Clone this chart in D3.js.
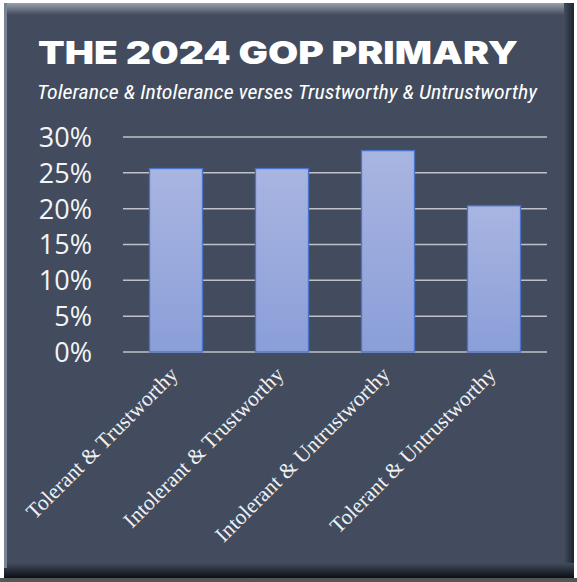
<!DOCTYPE html>
<html><head><meta charset="utf-8">
<script src="https://cdn.jsdelivr.net/npm/d3@7"></script>
<style>html,body{margin:0;padding:0;background:#fff;}svg{display:block;}</style>
</head><body>
<script>
const categories = ["Tolerant & Trustworthy","Intolerant & Trustworthy","Intolerant & Untrustworthy","Tolerant & Untrustworthy"];
const values = [0.256, 0.256, 0.281, 0.204];
const yTicks = [0, 0.05, 0.10, 0.15, 0.20, 0.25, 0.30];
const title = "THE 2024 GOP PRIMARY";
const subtitle = "Tolerance & Intolerance verses Trustworthy & Untrustworthy";

const W = 577, H = 582;
const svg = d3.select("body").append("svg").attr("width", W).attr("height", H);
const defs = svg.append("defs");

const bg = defs.append("linearGradient").attr("id","topg").attr("x1",0).attr("y1",0).attr("x2",0).attr("y2",1);
bg.append("stop").attr("offset",0).attr("stop-color","#9aa0ab");
bg.append("stop").attr("offset",1).attr("stop-color","#424c5e");
const bot = defs.append("linearGradient").attr("id","botg").attr("x1",0).attr("y1",0).attr("x2",0).attr("y2",1);
bot.append("stop").attr("offset",0).attr("stop-color","#424c5e");
bot.append("stop").attr("offset",1).attr("stop-color","#0b0e14");
const rg = defs.append("linearGradient").attr("id","rg").attr("x1",0).attr("y1",0).attr("x2",1).attr("y2",0);
rg.append("stop").attr("offset",0).attr("stop-color","#424c5e");
rg.append("stop").attr("offset",1).attr("stop-color","#1e2430");
const barg = defs.append("linearGradient").attr("id","barg").attr("x1",0).attr("y1",0).attr("x2",0).attr("y2",1);
barg.append("stop").attr("offset",0).attr("stop-color","#a9b5e1");
barg.append("stop").attr("offset",1).attr("stop-color","#8a9ed8");

// panel
svg.append("rect").attr("x",4).attr("y",3).attr("width",570).attr("height",575).attr("fill","#424c5e");
svg.append("rect").attr("x",4).attr("y",3).attr("width",570).attr("height",12).attr("fill","url(#topg)");
svg.append("rect").attr("x",564).attr("y",3).attr("width",10).attr("height",575).attr("fill","url(#rg)");
svg.append("rect").attr("x",4).attr("y",563).attr("width",570).attr("height",15).attr("fill","url(#botg)");
svg.append("rect").attr("x",4).attr("y",3).attr("width",3).attr("height",565).attr("fill","#7a8296");
svg.append("rect").attr("x",0).attr("y",578).attr("width",577).attr("height",4).attr("fill","#555");

// titles
svg.append("text").attr("x",38).attr("y",64).text(title)
  .attr("font-family","Inter, 'DejaVu Sans', sans-serif").attr("font-weight",900)
  .attr("font-size",31).attr("fill","#ffffff")
  .attr("textLength",480).attr("lengthAdjust","spacingAndGlyphs");
svg.append("text").attr("x",37).attr("y",99).text(subtitle)
  .attr("font-family","'Liberation Sans Narrow', 'Roboto Condensed', sans-serif").attr("font-style","italic")
  .attr("font-size",21).attr("fill","#ffffff")
  .attr("textLength",500).attr("lengthAdjust","spacingAndGlyphs");

const x = d3.scaleBand().domain(categories).range([123,547]).paddingInner(0.5).paddingOuter(0.25);
const y = d3.scaleLinear().domain([0,0.30]).range([352,137]);

// gridlines
svg.append("g").selectAll("line").data(yTicks).join("line")
  .attr("x1",123).attr("x2",547).attr("y1",d=>y(d)).attr("y2",d=>y(d))
  .attr("stroke","#bfc1c6").attr("stroke-width",1.5);

// y axis labels
const yAxis = d3.axisLeft(y).tickValues(yTicks).tickFormat(d3.format(".0%")).tickSize(0).tickPadding(0);
const ya = svg.append("g").attr("transform","translate(92,0)").call(yAxis);
ya.select(".domain").remove();
ya.selectAll("text").attr("fill","#f4f4f4").attr("font-size",27)
  .attr("font-family","'Open Sans', 'Liberation Sans', sans-serif").attr("dy","0.35em");

// bars
svg.append("g").selectAll("rect").data(values).join("rect")
  .attr("x",(d,i)=>x(categories[i])).attr("width",x.bandwidth())
  .attr("y",d=>y(d)).attr("height",d=>y(0)-y(d))
  .attr("fill","url(#barg)").attr("stroke","#4a74c8").attr("stroke-width",1.3);

// x labels
const xAxis = d3.axisBottom(x).tickSize(0).tickPadding(0);
const xa = svg.append("g").attr("transform","translate(0,0)").call(xAxis);
xa.select(".domain").remove();
xa.selectAll(".tick").attr("transform",d=>`translate(${x(d)+x.bandwidth()/2},0)`);
xa.selectAll("text")
  .attr("font-family","'Liberation Serif', 'Times New Roman', serif").attr("font-size",21.5)
  .attr("fill","#f0f0f0").attr("text-anchor","end").attr("dy",0).attr("y",0)
  .attr("transform","translate(3,376) rotate(-45)");
</script>
</body></html>
